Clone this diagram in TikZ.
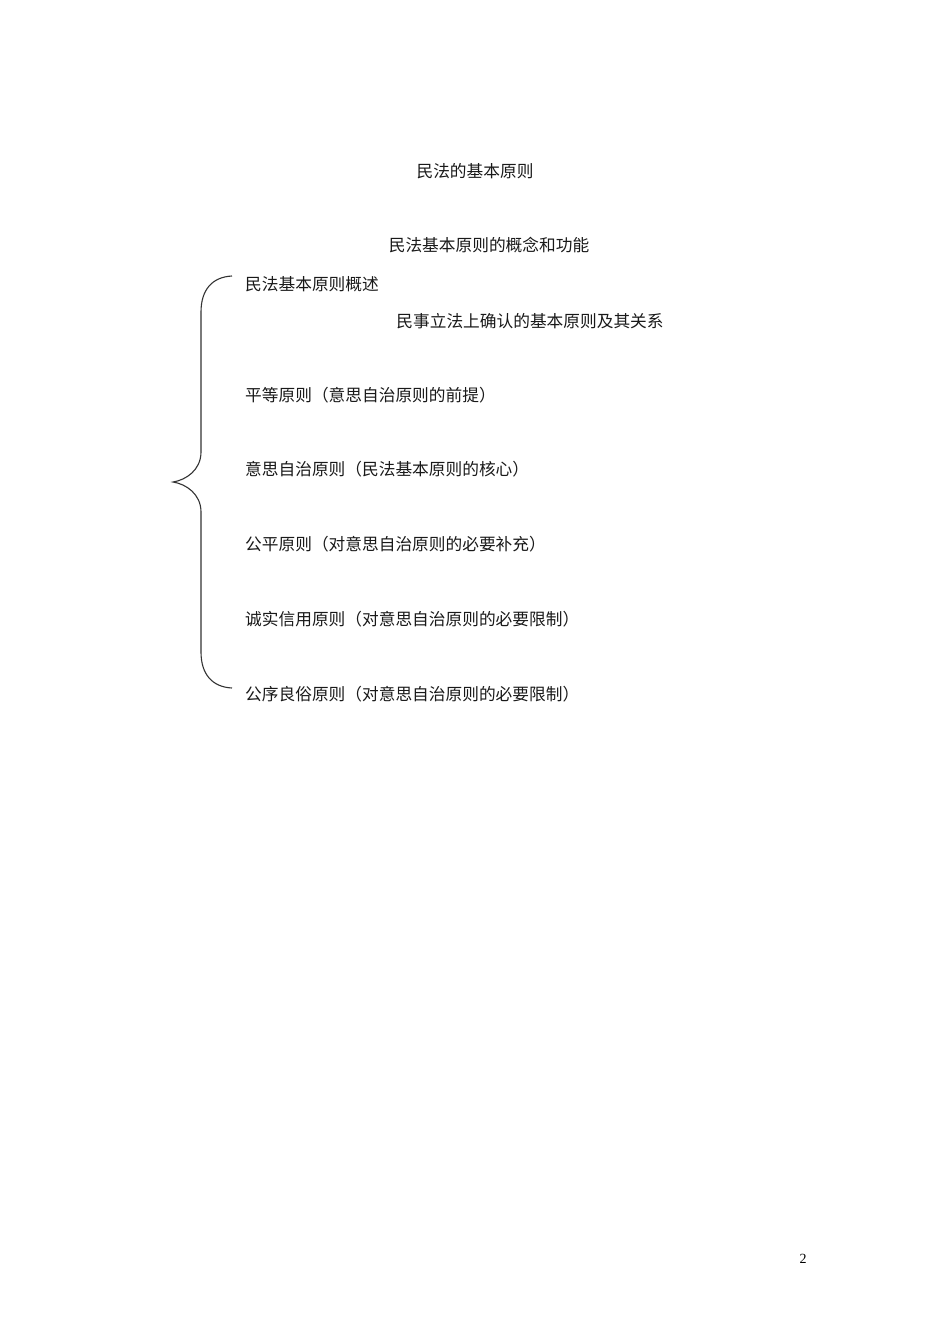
\documentclass[tikz,border=0pt]{standalone}
\usepackage{fontspec}
\newfontfamily\cjk{Noto Sans CJK SC}
\setmainfont{Liberation Serif}
\begin{document}
\begin{tikzpicture}[x=1pt,y=-1pt,
  txt/.style={inner sep=0pt,font=\cjk\fontsize{16.7}{18}\selectfont,text=black!90},
  lefttxt/.style={txt,anchor=west},
  bracepath/.style={draw=black!80,line width=1.1pt}]
\useasboundingbox (0,0) rectangle (950,1344);
\node[txt] (title) at (475,171) {民法的基本原则};
\node[txt] (concept) at (489,245) {民法基本原则的概念和功能};
\node[lefttxt] (overview) at (245,284) {民法基本原则概述};
\node[txt] (relation) at (530,321) {民事立法上确认的基本原则及其关系};
\node[lefttxt] (p1) at (245,395) {平等原则（意思自治原则的前提）};
\node[lefttxt] (p2) at (245,469) {意思自治原则（民法基本原则的核心）};
\node[lefttxt] (p3) at (245,544) {公平原则（对意思自治原则的必要补充）};
\node[lefttxt] (p4) at (245,619) {诚实信用原则（对意思自治原则的必要限制）};
\node[lefttxt] (p5) at (245,694) {公序良俗原则（对意思自治原则的必要限制）};
\node[inner sep=0pt,font=\fontsize{14}{16}\selectfont] (page) at (803,1259) {2};
\draw[bracepath] (232,276) .. controls (212,277) and (201,290) .. (201,312)
  -- (201,452) .. controls (201,470) and (186,480) .. (173,482)
  .. controls (186,484) and (201,494) .. (201,512)
  -- (201,652) .. controls (201,674) and (212,687) .. (232,688);
\end{tikzpicture}
\end{document}
